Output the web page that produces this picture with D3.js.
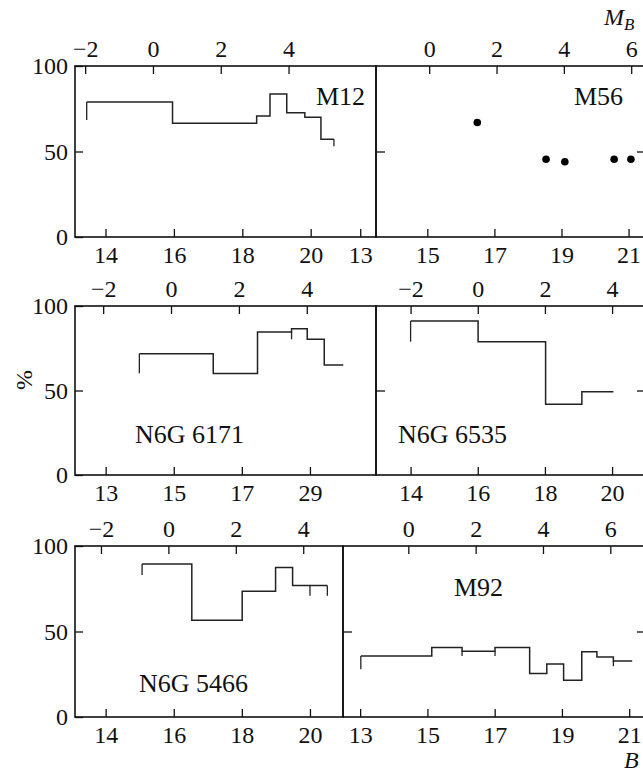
<!DOCTYPE html>
<html>
<head>
<meta charset="utf-8">
<script src="https://cdn.jsdelivr.net/npm/d3@7"></script>
<style>
  body { margin: 0; background: #fff; }
  svg text { font-family: "Liberation Serif", "Times New Roman", serif; fill: #111; }
</style>
</head>
<body>
<div id="chart"></div>
<script>
// ---- data (B magnitude bin edges, percent per bin) ----
var m12Edges = [13.45, 15.96, 18.42, 18.81, 19.30, 19.83, 20.30, 20.68];
var m12Pct   = [79, 66.5, 70.8, 83.6, 72.7, 70, 57.2];
var m12Drops = [[13.45, 68.4], [20.68, 53]];

var m56B   = [16.49, 18.54, 19.10, 20.57, 21.07];
var m56Pct = [67, 45.5, 44, 45.5, 45.5];

var n6171Edges = [13.99, 16.16, 17.46, 18.46, 18.92, 19.42, 19.98];
var n6171Pct   = [71.8, 60, 84.6, 86.6, 80.3, 65.1];
var n6171Drops = [[13.99, 60.2], [18.46, 80.3]];

var n6535Edges = [14, 16.01, 18.02, 19.10, 20.04];
var n6535Pct   = [91.1, 78.9, 41.8, 49.3];
var n6535Drops = [[14, 78.9]];

var n5466Edges = [15.07, 16.53, 18.01, 18.99, 19.49, 20.51];
var n5466Pct   = [89.5, 56.6, 73.6, 87.5, 76.9];
var n5466Drops = [[15.07, 83], [20.0, 70.9], [20.51, 70.9]];

var m92Edges = [13.02, 15.13, 16.03, 17.01, 18.04, 18.55, 19.05, 19.59, 20.04, 20.53, 21.09];
var m92Pct   = [35.6, 40.7, 38.5, 40.7, 25.4, 31.0, 21.5, 38.1, 35.1, 32.8];
var m92Drops = [[13.02, 27.9], [16.03, 35.6], [17.01, 35.6], [20.53, 29.7]];

// tick values / labels
var pctTicks = [0, 50, 100];
var bTicksEven = [14, 16, 18, 20];
var bTicksOdd  = [13, 15, 17, 19, 21];
var bTicks6171 = [13, 15, 17, 19];
var bLabels6171 = ["13", "15", "17", "29"];
var mTicksA = [-2, 0, 2, 4];
var mTicksB = [0, 2, 4, 6];

// ---- layout ----
var W = 643, H = 775;
var rows = [
  {top: 66,  bottom: 237, split: 376},
  {top: 306, bottom: 475, split: 376},
  {top: 546, bottom: 717, split: 343}
];
var frameL = 75, frameR = 645;
var tickFont = 24, labelFont = 26;

var panels = [
  {row: 0, side: "L", bDom: [13.108, 21.91], mDom: [-2.30, 6.58], bTicks: bTicksEven, mTicks: mTicksA,
   edges: m12Edges, pct: m12Pct, drops: m12Drops, name: "M12", dx: 241, dy: 39},
  {row: 0, side: "R", bDom: [13.47, 21.49], mDom: [-1.58, 6.41], bTicks: bTicksOdd, mTicks: mTicksB,
   dotsB: m56B, dotsPct: m56Pct, name: "M56", dx: 198, dy: 39},
  {row: 1, side: "L", bDom: [12.10, 20.94], mDom: [-2.83, 6.04], bTicks: bTicks6171, bLabels: bLabels6171, mTicks: mTicksA,
   edges: n6171Edges, pct: n6171Pct, drops: n6171Drops, name: "N6G 6171", dx: 60, dy: 137},
  {row: 1, side: "R", bDom: [12.97, 20.98], mDom: [-3.03, 4.98], bTicks: bTicksEven, mTicks: mTicksA,
   edges: n6535Edges, pct: n6535Pct, drops: n6535Drops, name: "N6G 6535", dx: 22, dy: 137},
  {row: 2, side: "L", bDom: [13.10, 20.97], mDom: [-2.77, 5.18], bTicks: bTicksEven, mTicks: mTicksA,
   edges: n5466Edges, pct: n5466Pct, drops: n5466Drops, name: "N6G 5466", dx: 64, dy: 146},
  {row: 2, side: "R", bDom: [12.49, 21.47], mDom: [-1.94, 7.03], bTicks: bTicksOdd, mTicks: mTicksB,
   edges: m92Edges, pct: m92Pct, drops: m92Drops, name: "M92", dx: 111, dy: 50}
];

var svg = d3.select("#chart").append("svg")
    .attr("width", W)
    .attr("height", H);

function styleAxis(g) {
  g.select(".domain").remove();
  g.selectAll(".tick line").attr("stroke", "#111").attr("stroke-width", 1.3);
  g.selectAll(".tick text")
    .style("font-family", '"Liberation Serif", serif')
    .style("font-size", tickFont + "px")
    .attr("fill", "#111");
}

panels.forEach(function(p) {
  var r = rows[p.row];
  var x0 = p.side == "L" ? frameL : r.split;
  var x1 = p.side == "L" ? r.split : frameR;

  var x = d3.scaleLinear().domain(p.bDom).range([x0, x1]);
  var xm = d3.scaleLinear().domain(p.mDom).range([x0, x1]);
  var y = d3.scaleLinear().domain([0, 100]).range([r.bottom, r.top]);

  var g = svg.append("g");

  // bottom axis: B
  g.append("g")
    .attr("transform", "translate(0," + r.bottom + ")")
    .call(d3.axisBottom(x).tickValues(p.bTicks)
      .tickSizeInner(-8).tickSizeOuter(0).tickPadding(9)
      .tickFormat(function(d, i) { return p.bLabels ? p.bLabels[i] : d; }))
    .call(styleAxis);

  // top axis: M_B
  g.append("g")
    .attr("transform", "translate(0," + r.top + ")")
    .call(d3.axisTop(xm).tickValues(p.mTicks)
      .tickSizeInner(-8).tickSizeOuter(0).tickPadding(9))
    .call(styleAxis);

  if (p.side == "L") {
    g.append("g")
      .attr("transform", "translate(" + x0 + ",0)")
      .call(d3.axisLeft(y).tickValues(pctTicks)
        .tickSizeInner(-8).tickSizeOuter(0).tickPadding(7))
      .call(styleAxis);
  } else {
    g.append("g")
      .attr("transform", "translate(" + x0 + ",0)")
      .call(d3.axisLeft(y).tickValues([50]).tickSizeInner(-9).tickSizeOuter(0).tickFormat(""))
      .call(styleAxis);
    g.append("g")
      .attr("transform", "translate(" + x1 + ",0)")
      .call(d3.axisRight(y).tickValues([50]).tickSizeInner(-8).tickSizeOuter(0).tickFormat(""))
      .call(styleAxis);
  }

  // frame
  g.append("rect")
    .attr("x", x0).attr("y", r.top)
    .attr("width", x1 - x0).attr("height", r.bottom - r.top)
    .attr("fill", "none")
    .attr("stroke", "#111")
    .attr("stroke-width", 1.6);

  // step histogram
  if (p.edges) {
    var n = p.pct.length;
    var pts = p.edges.map(function(b, i) { return [b, p.pct[Math.min(i, n - 1)]]; });
    var line = d3.line()
      .x(function(d) { return x(d[0]); })
      .y(function(d) { return y(d[1]); })
      .curve(d3.curveStepAfter);
    g.append("path")
      .datum(pts)
      .attr("d", line)
      .attr("fill", "none")
      .attr("stroke", "#222")
      .attr("stroke-width", 1.5);

    // small vertical drops at bin edges
    p.drops.forEach(function(dr) {
      var i = d3.minIndex(p.edges, function(e) { return Math.abs(e - dr[0]); });
      var a = i > 0 ? p.pct[i - 1] : Infinity;
      var b = i < n ? p.pct[i] : Infinity;
      var lvl = Math.min(a, b);
      g.append("line")
        .attr("x1", x(dr[0])).attr("x2", x(dr[0]))
        .attr("y1", y(lvl)).attr("y2", y(dr[1]))
        .attr("stroke", "#222")
        .attr("stroke-width", 1.3);
    });
  }

  // dots (M56)
  if (p.dotsB) {
    g.selectAll("circle")
      .data(p.dotsB)
      .enter()
      .append("circle")
        .attr("cx", function(d) { return x(d); })
        .attr("cy", function(d, i) { return y(p.dotsPct[i]); })
        .attr("r", 3.8)
        .attr("fill", "#000");
  }

  // cluster name
  g.append("text")
    .attr("x", x0 + p.dx)
    .attr("y", r.top + p.dy)
    .style("font-size", labelFont + "px")
    .text(p.name);
});

// axis titles
var mb = svg.append("text")
    .attr("x", 604)
    .attr("y", 25)
    .style("font-size", "24px")
    .style("font-style", "italic");
mb.append("tspan").text("M");
mb.append("tspan")
    .attr("dy", 5)
    .style("font-size", "17px")
    .text("B");

svg.append("text")
    .attr("x", 624)
    .attr("y", 768)
    .style("font-size", "24px")
    .style("font-style", "italic")
    .text("B");

svg.append("text")
    .attr("transform", "translate(32,380) rotate(-90)")
    .attr("text-anchor", "middle")
    .style("font-size", "24px")
    .text("%");
</script>
</body>
</html>
